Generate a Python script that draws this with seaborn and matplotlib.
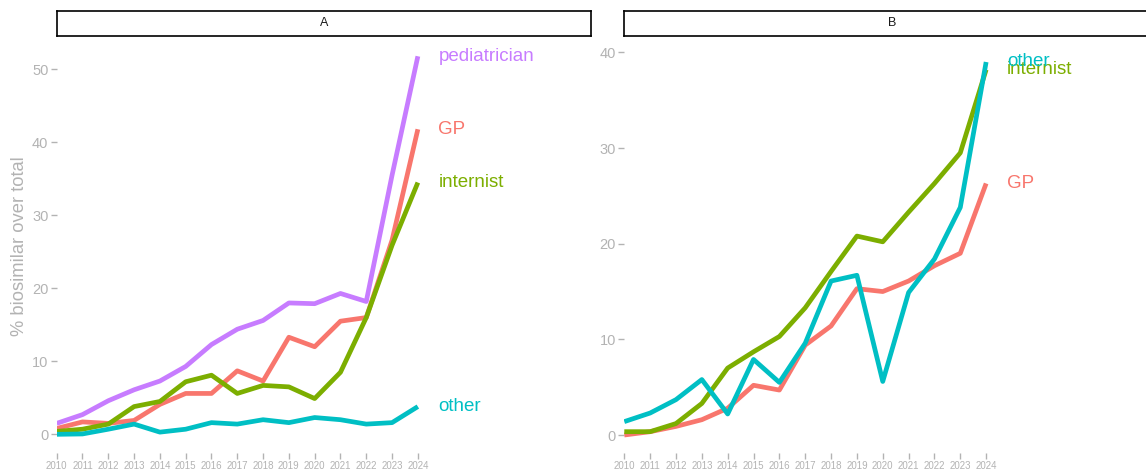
import numpy as np
import pandas as pd
import matplotlib
matplotlib.use("Agg")
import matplotlib.pyplot as plt
import seaborn as sns

# ---- data ---------------------------------------------------------------
years = list(range(2010, 2025))

# Panel A
a_gp = [0.8, 1.7, 1.5, 1.9, 4.1, 5.6, 5.6, 8.7, 7.3, 13.3, 12.0, 15.5, 16.0, 26.6, 41.8]
a_internist = [0.4, 0.7, 1.4, 3.8, 4.5, 7.2, 8.1, 5.6, 6.7, 6.5, 4.9, 8.5, 16.0, 25.9, 34.5]
a_other = [0.0, 0.05, 0.7, 1.4, 0.3, 0.7, 1.6, 1.4, 2.0, 1.6, 2.3, 2.0, 1.4, 1.6, 3.8]
a_pediatrician = [1.5, 2.7, 4.6, 6.1, 7.3, 9.3, 12.3, 14.4, 15.6, 18.0, 17.9, 19.3, 18.2, 35.5, 51.8]

# Panel B
b_gp = [0.0, 0.35, 0.9, 1.6, 2.8, 5.2, 4.7, 9.4, 11.4, 15.3, 15.0, 16.1, 17.7, 19.0, 26.3]
b_internist = [0.35, 0.35, 1.2, 3.3, 7.0, 8.7, 10.3, 13.3, 17.1, 20.8, 20.2, 23.3, 26.3, 29.5, 38.2]
b_other = [1.4, 2.3, 3.7, 5.8, 2.2, 7.9, 5.5, 9.6, 16.1, 16.7, 5.6, 14.9, 18.4, 23.8, 39.0]

panels = ["A", "B"]
y_title = "% biosimilar over total"

palette = {"GP": "#F8766D", "internist": "#7CAE00",
           "other": "#00BFC4", "pediatrician": "#C77CFF"}

series_a = {"GP": a_gp, "internist": a_internist,
            "other": a_other, "pediatrician": a_pediatrician}
series_b = {"GP": b_gp, "internist": b_internist, "other": b_other}

rows = []
for panel, series in zip(panels, [series_a, series_b]):
    for name, vals in series.items():
        for yr, v in zip(years, vals):
            rows.append({"panel": panel, "year": yr, "group": name, "value": v})
df = pd.DataFrame(rows)

# ---- styling ------------------------------------------------------------
sns.set_theme(style="white")
plt.rcParams["font.family"] = ["Liberation Sans", "DejaVu Sans"]

W, H = 1146, 471
fig = plt.figure(figsize=(W / 100, H / 100), dpi=100)


def frac(left, top, right, bottom):
    return [left / W, (H - bottom) / H, (right - left) / W, (bottom - top) / H]


tick_grey = "#B3B3B3"
layout = {
    "A": dict(ax=frac(56.7, 40, 590.7, 453), strip=frac(56.7, 11, 590.7, 36),
              ylim=(-2.56, 54.03), yticks=[0, 10, 20, 30, 40, 50]),
    "B": dict(ax=frac(624.3, 40, 1159.3, 453), strip=frac(624.3, 11, 1159.3, 36),
              ylim=(-1.88, 41.3), yticks=[0, 10, 20, 30, 40]),
}

for panel in panels:
    cfg = layout[panel]
    sub = df[df["panel"] == panel]
    order = [g for g in palette if g in sub["group"].unique()]

    ax = fig.add_axes(cfg["ax"])
    sns.lineplot(data=sub, x="year", y="value", hue="group", hue_order=order,
                 palette=palette, linewidth=3.4, legend=False, ax=ax,
                 solid_capstyle="butt")

    # direct labels at the end of each line
    for g in order:
        last = sub[(sub["group"] == g) & (sub["year"] == years[-1])]["value"].iloc[0]
        ax.text(years[-1] + 0.8, last, g, color=palette[g], fontsize=13.5,
                ha="left", va="center", clip_on=False)

    ax.set_xlim(2010, 2030.7)
    ax.set_ylim(*cfg["ylim"])
    ax.set_xticks(years)
    ax.set_xticklabels([str(y) for y in years])
    ax.set_yticks(cfg["yticks"])
    ax.tick_params(axis="x", labelsize=7, colors=tick_grey, length=4, width=1,
                   pad=2, direction="out", bottom=True)
    ax.tick_params(axis="y", labelsize=10.5, colors=tick_grey, length=4, width=1,
                   pad=2, direction="out", left=True)
    for s in ax.spines.values():
        s.set_visible(False)
    ax.grid(False)
    ax.set_xlabel("")
    if panel == "A":
        ax.set_ylabel(y_title, fontsize=13.2, color=tick_grey, labelpad=3)
    else:
        ax.set_ylabel("")

    # facet strip
    sax = fig.add_axes(cfg["strip"])
    sax.set_xticks([])
    sax.set_yticks([])
    for s in sax.spines.values():
        s.set_visible(True)
        s.set_color("black")
        s.set_linewidth(1.2)
    sax.set_facecolor("white")
    sax.text(0.5, 0.5, panel, ha="center", va="center", fontsize=9,
             color="#1A1A1A", transform=sax.transAxes)

fig.savefig("out.png", dpi=100, facecolor="white")
